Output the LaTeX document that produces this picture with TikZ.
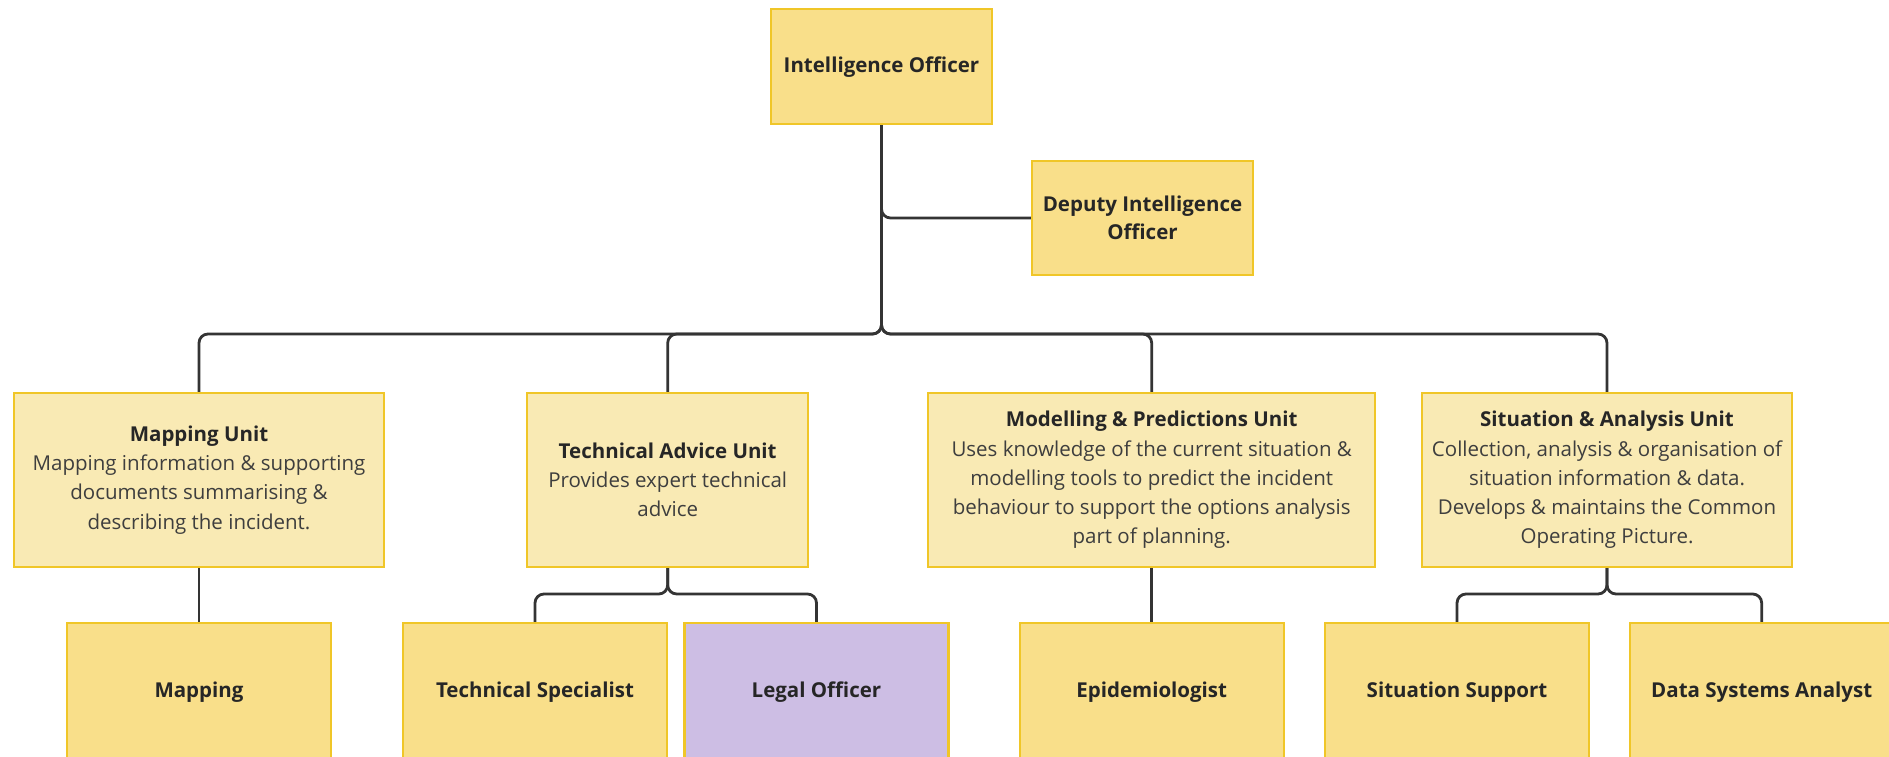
\documentclass[tikz,border=0pt]{standalone}
\usepackage{fontspec}
\setmainfont{Open Sans}
\definecolor{rolefill}{RGB}{249,223,138}
\definecolor{unitfill}{RGB}{249,234,180}
\definecolor{legalfill}{RGB}{205,190,228}
\definecolor{edge}{RGB}{240,198,40}
\definecolor{wire}{RGB}{52,52,52}
\definecolor{ink}{RGB}{38,38,38}
\definecolor{softink}{RGB}{62,62,62}
\tikzset{
  box/.style={draw=edge, line width=2.4pt, inner sep=0pt, align=center,
    text=ink, font=\fontsize{20.5}{29.3}\selectfont},
  topbox/.style={box, fill=rolefill, minimum width=221pt, minimum height=115pt},
  unitbox/.style={box, fill=unitfill, minimum height=174pt},
  rolebox/.style={box, fill=rolefill, minimum width=264pt, minimum height=138pt},
  legalbox/.style={rolebox, fill=legalfill},
  link/.style={draw=wire, line width=2.8pt, rounded corners=9pt},
}
\newcommand{\desc}[1]{{\color{softink}#1}}
\begin{document}
\begin{tikzpicture}[x=1pt, y=-1pt]
\clip (0,0) rectangle (1889,756);
\useasboundingbox (0,0) rectangle (1889,756);
\fill[white] (0,0) rectangle (1889,756);

% command level
\node[topbox] (io) at (881.5,66.7) {\bfseries Intelligence Officer};
\node[topbox, minimum height=114pt, font=\fontsize{20.5}{27.7}\selectfont] (dep) at (1142.5,218) {\bfseries Deputy Intelligence\\\bfseries Officer};

% units
\node[unitbox, minimum width=370pt] (mu) at (199,480)
  {\bfseries Mapping Unit\\\desc{Mapping information \& supporting}\\\desc{documents summarising \&}\\\desc{describing the incident.}};
\node[unitbox, minimum width=281pt] (tau) at (667.7,480)
  {\bfseries Technical Advice Unit\\\desc{Provides expert technical}\\\desc{advice}};
\node[unitbox, minimum width=447pt] (mpu) at (1151.7,480)
  {\bfseries Modelling \& Predictions Unit\\\desc{Uses knowledge of the current situation \&}\\\desc{modelling tools to predict the incident}\\\desc{behaviour to support the options analysis}\\\desc{part of planning.}};
\node[unitbox, minimum width=370pt] (sau) at (1607,480)
  {\bfseries Situation \& Analysis Unit\\\desc{Collection, analysis \& organisation of}\\\desc{situation information \& data.}\\\desc{Develops \& maintains the Common}\\\desc{Operating Picture.}};

% roles
\node[rolebox] (map) at (199,692) {\bfseries Mapping};
\node[rolebox] (ts) at (535,692) {\bfseries Technical Specialist};
\node[legalbox] (lo) at (816.5,692) {\bfseries Legal Officer};
\node[rolebox] (epi) at (1151.7,692) {\bfseries Epidemiologist};
\node[rolebox] (ss) at (1457,692) {\bfseries Situation Support};
\node[rolebox] (dsa) at (1761.7,692) {\bfseries Data Systems Analyst};

% connectors
\draw[link] (io.south) |- (dep.west);
\foreach \u in {mu,tau,mpu,sau}
  \draw[link] (io.south) -- (io.south |- 0,334) -| (\u.north);
\draw[link] (mu.south) -- (map.north);
\draw[link] (mpu.south) -- (epi.north);
\foreach \c in {ts,lo}
  \draw[link] (tau.south) -- (tau.south |- 0,594) -| (\c.north);
\foreach \c in {ss,dsa}
  \draw[link] (sau.south) -- (sau.south |- 0,594) -| (\c.north);
\end{tikzpicture}
\end{document}
